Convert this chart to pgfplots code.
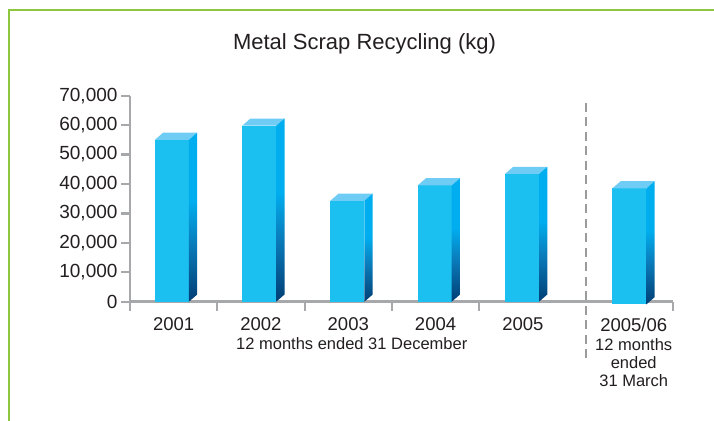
\documentclass[border=0pt]{standalone}
\usepackage{fontspec}
\setmainfont{Liberation Sans}
\usepackage{pgfplots}
\pgfplotsset{compat=1.18}
\definecolor{front}{HTML}{1BC0F0}
\definecolor{topc}{HTML}{6FCDF5}
\definecolor{sidetop}{HTML}{00AEEF}
\definecolor{sidemid}{HTML}{0A7BBA}
\definecolor{sidebot}{HTML}{003E74}
\definecolor{axisgray}{HTML}{A6A8AB}
\definecolor{dashgray}{HTML}{9B9B9E}
\definecolor{txt}{HTML}{231F20}
\definecolor{border}{HTML}{8DC63F}
\pgfdeclareverticalshading{sideshade}{100bp}{color(0bp)=(sidebot); color(25bp)=(sidebot); color(42bp)=(sidemid); color(55bp)=(sidetop); color(75bp)=(sidetop); color(100bp)=(sidetop)}
% #1 = category centre, #2 = value (kg), #3 = base
\newcommand\threedbar[3]{%
  \pgfmathsetmacro\xl{#1-0.195}%
  \pgfmathsetmacro\xr{#1+0.195}%
  \pgfmathsetmacro\xs{#1+0.195+0.095}%
  \pgfmathsetmacro\xt{#1-0.195+0.095}%
  \edef\yt{\the\numexpr#2+2450\relax}%
  \edef\yb{\the\numexpr#3+2450\relax}%
  \edef\doit{%
    \noexpand\addplot[draw=none, fill=front] coordinates {(\xl,#3) (\xr,#3) (\xr,#2) (\xl,#2)};
    \noexpand\addplot[draw=none, fill=topc] coordinates {(\xl,#2) (\xt,\yt) (\xs,\yt) (\xr,#2)};
    \noexpand\addplot[draw=none, shade, shading=sideshade] coordinates {(\xr,#3) (\xs,\yb) (\xs,\yt) (\xr,#2)};
  }\doit}
\begin{document}
\begin{tikzpicture}
\useasboundingbox (0,0) rectangle (714pt,420pt);
\fill[white] (0,0) rectangle (714pt,420pt);
\draw[border, line width=2pt] (9pt,-5pt) -- (9pt,410.3pt) -- (720pt,410.3pt);
\node[font=\fontsize{22}{24}\selectfont, text=txt] at (364.5pt,376pt) {Metal Scrap Recycling (kg)};
\begin{axis}[
  at={(130pt,118.3pt)}, anchor=south west,
  scale only axis, width=543pt, height=206pt,
  xmin=0, xmax=6.22, ymin=0, ymax=70000,
  clip=false,
  axis x line=bottom, axis y line=left,
  axis line style={-, draw=axisgray, line width=2.5pt},
  tick style={draw=axisgray, line width=2.2pt},
  tick align=outside, major tick length=9pt,
  xtick={0,1,2,3,4,6.22}, xticklabels={,,,,,},
  extra x ticks={0.5,1.5,2.5,3.5,4.5,5.77},
  extra x tick labels={2001,2002,2003,2004,2005,2005/06},
  extra x tick style={major tick length=0pt, xticklabel style={yshift=-12.5pt, font=\fontsize{18.5}{20}\selectfont}},
  ytick={0,10000,20000,30000,40000,50000,60000,70000},
  scaled y ticks=false,
  /pgf/number format/assume math mode=true,
  /pgf/number format/1000 sep={,},
  tick label style={text=txt},
  yticklabel style={font=\fontsize{19}{21}\selectfont},
]
\addplot[draw=dashgray, line width=2.3pt, dash pattern=on 9pt off 5.5pt] coordinates {(5.22,67600) (5.22,-19100)};
\threedbar{0.48}{55000}{0}
\threedbar{1.48}{59800}{0}
\threedbar{2.49}{34300}{0}
\threedbar{3.49}{39500}{0}
\threedbar{4.49}{43400}{0}
\threedbar{5.72}{38500}{-900}
\node[font=\fontsize{16.5}{18}\selectfont, text=txt] at (axis cs:2.54,0) [yshift=-41.6pt] {12 months ended 31 December};
\node[font=\fontsize{16.5}{18}\selectfont, text=txt, align=center] at (axis cs:5.77,0) [yshift=-61.3pt] {12 months\\ended\\31 March};
\end{axis}
\end{tikzpicture}
\end{document}
